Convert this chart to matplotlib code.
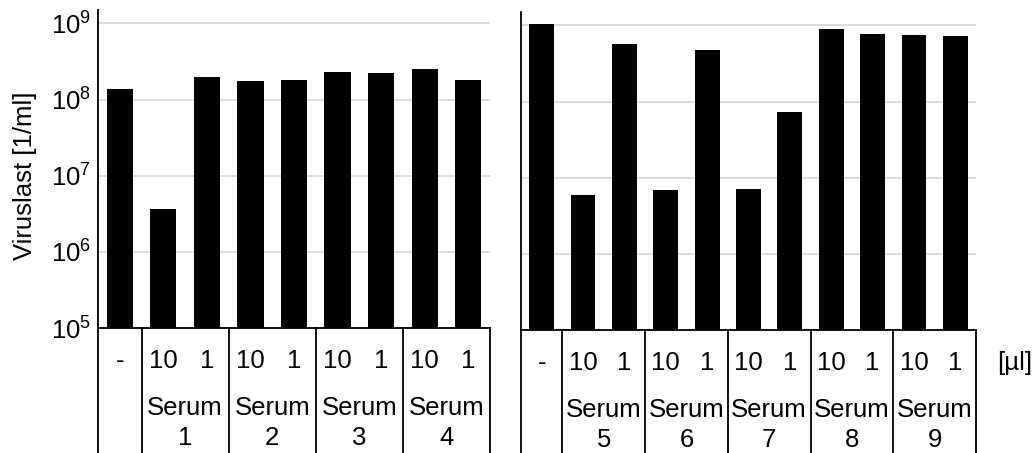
import matplotlib
matplotlib.use("Agg")
import matplotlib.pyplot as plt

plt.rcParams['font.family'] = ['Liberation Sans', 'DejaVu Sans']
plt.rcParams['mathtext.fontset'] = 'custom'
plt.rcParams['mathtext.rm'] = 'Liberation Sans'
plt.rcParams['mathtext.default'] = 'regular'
plt.rcParams['font.size'] = 18.5

# data
left_doses = ['-', '10', '1', '10', '1', '10', '1', '10', '1']
left_values = [1.37e8, 3.7e6, 1.98e8, 1.74e8, 1.79e8, 2.28e8, 2.25e8, 2.5e8, 1.82e8]
left_sera = ['1', '2', '3', '4']

right_doses = ['-', '10', '1', '10', '1', '10', '1', '10', '1', '10', '1']
right_values = [1.05e9, 5.9e6, 5.7e8, 6.8e6, 4.8e8, 7.2e6, 7.2e7, 9.0e8, 7.7e8, 7.4e8, 7.2e8]
right_sera = ['5', '6', '7', '8', '9']

W, H = 1036, 453
fig = plt.figure(figsize=(W / 100, H / 100), dpi=100)

def px_axes(left, right, top, bottom):
    return fig.add_axes([left / W, 1 - bottom / H, (right - left) / W, (bottom - top) / H])

ax1 = px_axes(98, 490, 10, 328)
ax2 = px_axes(521, 976, 12, 330)


def draw_panel(ax, doses, values, sera, show_ticks):
    n = len(values)
    xs = list(range(n))
    ax.bar(xs, values, width=0.6, color='black', zorder=3)
    ax.set_yscale('log')
    ax.set_ylim(1e5, 1.5e9)
    ax.set_xlim(-0.5, n - 0.5)
    ax.set_yticks([1e5, 1e6, 1e7, 1e8, 1e9])
    ax.minorticks_off()
    ax.yaxis.grid(True, color='#d9d9d9', linewidth=1.3, zorder=0)
    ax.set_axisbelow(True)
    for s in ['top', 'right']:
        ax.spines[s].set_visible(False)
    ax.spines['left'].set_linewidth(1.3)
    ax.spines['bottom'].set_linewidth(1.3)
    ax.set_xticks([])
    ax.tick_params(axis='y', length=0, pad=5)
    if not show_ticks:
        ax.set_yticklabels([])

    tr = ax.get_xaxis_transform()
    # separators of the label table
    seps = [-0.5, 0.5] + [0.5 + 2 * (k + 1) for k in range(len(sera))]
    for sx in seps:
        ax.plot([sx, sx], [0, -0.6], color='black', lw=1.3, transform=tr, clip_on=False)

    for x, d in zip(xs, doses):
        ax.annotate(d, xy=(x, 0), xycoords=tr, xytext=(0, -33), textcoords='offset pixels',
                    ha='center', va='center')
    for k, s in enumerate(sera):
        cx = 1.5 + 2 * k
        ax.annotate('Serum', xy=(cx, 0), xycoords=tr, xytext=(0, -80), textcoords='offset pixels',
                    ha='center', va='center')
        ax.annotate(s, xy=(cx, 0), xycoords=tr, xytext=(0, -110), textcoords='offset pixels',
                    ha='center', va='center')


draw_panel(ax1, left_doses, left_values, left_sera, True)
draw_panel(ax2, right_doses, right_values, right_sera, False)

ax1.set_ylabel('Viruslast [1/ml]')
ax1.yaxis.set_label_coords(-0.155, 0.48)

ax2.annotate('[µl]', xy=(11.0, 0), xycoords=ax2.get_xaxis_transform(), xytext=(0, -33),
             textcoords='offset pixels', ha='left', va='center')

fig.savefig('out.png', dpi=100)
